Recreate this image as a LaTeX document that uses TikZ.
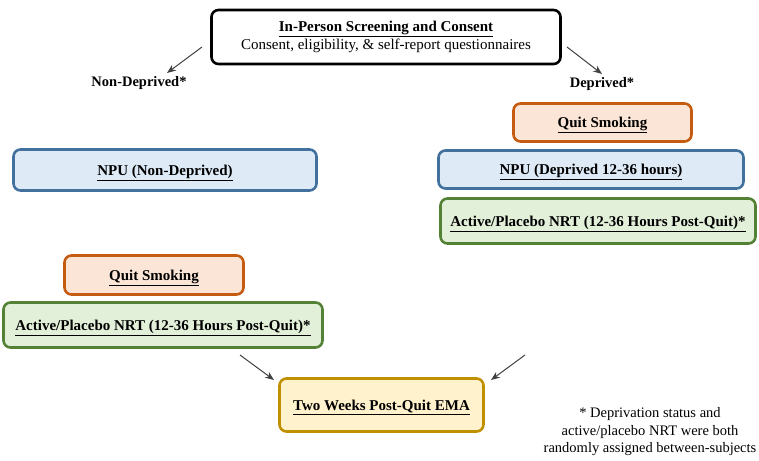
\documentclass[tikz,border=0pt]{standalone}
\usepackage{fontspec}
\setmainfont{Liberation Serif}
\usetikzlibrary{arrows.meta}
\definecolor{bluebd}{HTML}{41719C}
\definecolor{bluefill}{HTML}{DEEBF7}
\definecolor{orangebd}{HTML}{C55A11}
\definecolor{orangefill}{HTML}{FBE5D6}
\definecolor{greenbd}{HTML}{538135}
\definecolor{greenfill}{HTML}{E2F0D9}
\definecolor{goldbd}{HTML}{BF9000}
\definecolor{goldfill}{HTML}{FFF2CC}
\definecolor{arrowgray}{HTML}{404040}
\tikzset{
  stagebox/.style={draw, rounded corners=7pt, line width=2.6pt, inner sep=0pt, align=center,
    font=\fontsize{15}{17}\selectfont\bfseries},
  onelinebox/.style={stagebox, text depth=0pt},
  bluebox/.style={onelinebox, draw=bluebd, fill=bluefill},
  orangebox/.style={onelinebox, draw=orangebd, fill=orangefill},
  greenbox/.style={onelinebox, draw=greenbd, fill=greenfill},
  goldbox/.style={onelinebox, draw=goldbd, fill=goldfill},
  branchlabel/.style={font=\fontsize{14.5}{17}\selectfont\bfseries, inner sep=0pt},
  flowarrow/.style={draw=arrowgray, line width=1pt, -{Stealth[length=9pt,width=7pt]}},
}
\newcommand{\ul}[1]{\underline{#1}}
\begin{document}
\begin{tikzpicture}[x=1pt,y=-1pt]
\useasboundingbox (0,0) rectangle (759,460);
\node[stagebox, draw=black, fill=white, minimum width=349pt, minimum height=54pt] (top) at (386,37)
  {\ul{In-Person Screening and Consent}\\[1pt]{\mdseries Consent, eligibility, \& self-report questionnaires}};
\node[branchlabel] (nondep) at (139,83) {Non-Deprived*};
\node[branchlabel] (dep) at (602,84) {Deprived*};
\node[orangebox, minimum width=178pt, minimum height=38pt] (qsr) at (602.5,122.5) {\ul{Quit Smoking}};
\node[bluebox, minimum width=305pt, minimum height=38pt] (npud) at (591,169.5) {\ul{NPU (Deprived 12-36 hours)}};
\node[greenbox, minimum width=315pt, minimum height=45pt] (actr) at (598,221) {\ul{Active/Placebo NRT (12-36 Hours Post-Quit)*}};
\node[bluebox, minimum width=303pt, minimum height=41pt] (npun) at (165,170) {\ul{NPU (Non-Deprived)}};
\node[orangebox, minimum width=179pt, minimum height=39pt] (qsl) at (154,275) {\ul{Quit Smoking}};
\node[greenbox, minimum width=319pt, minimum height=45pt] (actl) at (163,325) {\ul{Active/Placebo NRT (12-36 Hours Post-Quit)*}};
\node[goldbox, minimum width=204pt, minimum height=53pt] (tw) at (381.5,405) {\ul{Two Weeks Post-Quit EMA}};
\node[align=center, font=\fontsize{14.5}{17.5}\selectfont, inner sep=0pt] (note) at (650,432)
  {* Deprivation status and\\active/placebo NRT were both\\randomly assigned between-subjects};
\coordinate (la) at (202,47);
\coordinate (lb) at (167,73);
\coordinate (ra) at (567,47);
\coordinate (rb) at (602,74);
\coordinate (bla) at (240,355);
\coordinate (blb) at (274,380);
\coordinate (bra) at (525,355);
\coordinate (brb) at (491,380);
\draw[flowarrow] (la) -- (lb);
\draw[flowarrow] (ra) -- (rb);
\draw[flowarrow] (bla) -- (blb);
\draw[flowarrow] (bra) -- (brb);
\end{tikzpicture}
\end{document}
